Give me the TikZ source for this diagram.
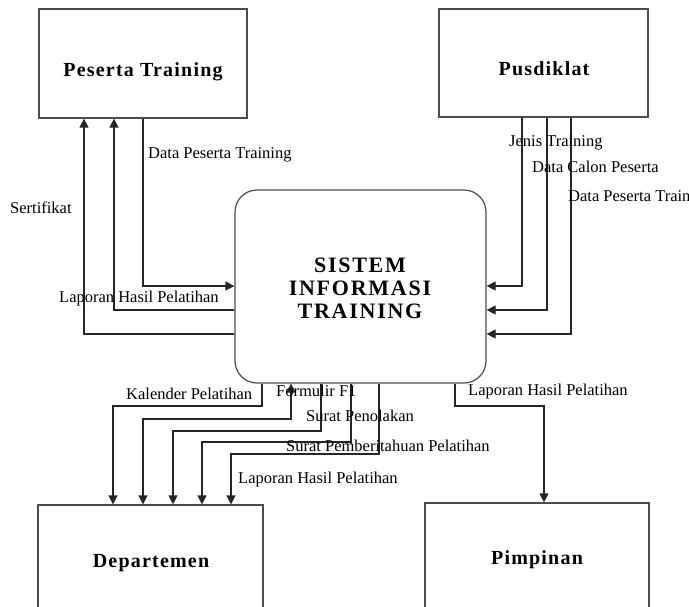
\documentclass[tikz,border=0pt]{standalone}
\usepackage{fontspec}
\setmainfont{Liberation Serif}
\newfontfamily\ttlfont{Liberation Serif}[LetterSpace=6]
\newfontfamily\sysfont{Liberation Serif}[LetterSpace=8]
\usetikzlibrary{arrows.meta}
\begin{document}
\begin{tikzpicture}[x=1pt,y=-1pt,
  box/.style={draw=black!70, line width=1.2pt, inner sep=0pt, fill=none},
  ttl/.style={anchor=base, inner sep=0pt, font=\ttlfont\bfseries\fontsize{20}{22}\selectfont},
  lbl/.style={anchor=base west, inner sep=0pt, font=\fontsize{16.5}{18}\selectfont},
  tip/.style={Triangle[length=9pt,width=9pt]},
  arr/.style={draw=black!85, line width=1.2pt, -{Triangle[length=9pt,width=9pt]}},
  barr/.style={draw=black!85, line width=1.2pt, {Triangle[length=9pt,width=9pt]}-{Triangle[length=9pt,width=9pt]}}]
\useasboundingbox (0,0) rectangle (689,606);
\clip (0,0) rectangle (689,606);
\fill[white] (0,0) rectangle (689,606);
% boxes
\node[box, minimum width=208pt, minimum height=109pt] (pt) at (143,63.5) {};
\node[box, minimum width=209pt, minimum height=108pt] (pu) at (543.5,63) {};
\node[box, rounded corners=22pt, minimum width=251pt, minimum height=193pt] (sis) at (360.5,286.5) {};
\node[box, minimum width=225pt, minimum height=195pt] (dep) at (150.5,602.5) {};
\node[box, minimum width=224pt, minimum height=197pt] (pim) at (537,601.5) {};
% titles
\node[ttl] (ptt) at (143,76) {Peserta Training};
\node[ttl] (put) at (544,75) {Pusdiklat};
\node[ttl] (dept) at (151,567) {Departemen};
\node[ttl] (pimt) at (537,564) {Pimpinan};
\node[anchor=base, inner sep=0pt, font=\sysfont\bfseries\fontsize{22}{23}\selectfont] (s1) at (360,272) {SISTEM};
\node[anchor=base, inner sep=0pt, font=\sysfont\bfseries\fontsize{22}{23}\selectfont] (s2) at (360,295) {INFORMASI};
\node[anchor=base, inner sep=0pt, font=\sysfont\bfseries\fontsize{22}{23}\selectfont] (s3) at (360,318) {TRAINING};
% left connectors
\draw[arr] (pt.south -| 143,0) |- (sis.west |- 0,286);
\draw[arr] (sis.west |- 0,310) -| (pt.south -| 114,0);
\draw[arr] (sis.west |- 0,334) -| (pt.south -| 84,0);
% right connectors
\draw[arr] (pu.south -| 522,0) |- (sis.east |- 0,286);
\draw[arr] (pu.south -| 547,0) |- (sis.east |- 0,310);
\draw[arr] (pu.south -| 571,0) |- (sis.east |- 0,334);
% bottom connectors
\draw[arr] (sis.south -| 262,0) |- (113,406) -- (dep.north -| 113,0);
\draw[barr] (sis.south -| 291,0) |- (143,419) -- (dep.north -| 143,0);
\draw[arr] (sis.south -| 321,0) |- (173,431) -- (dep.north -| 173,0);
\draw[arr] (sis.south -| 351,0) |- (202,442) -- (dep.north -| 202,0);
\draw[arr] (sis.south -| 379,0) |- (231,454) -- (dep.north -| 231,0);
\draw[arr] (sis.south -| 455,0) |- (544,406) -- (pim.north -| 544,0);
% labels
\node[lbl] (l1) at (148,158) {Data Peserta Training};
\node[lbl] (l2) at (10,213) {Sertifikat};
\node[lbl] (l3) at (59,302) {Laporan Hasil Pelatihan};
\node[lbl] (l4) at (509,146) {Jenis Training};
\node[lbl] (l5) at (532,172) {Data Calon Peserta};
\node[lbl] (l6) at (568,201) {Data Peserta Training};
\node[lbl] (l7) at (126,399) {Kalender Pelatihan};
\node[lbl] (l8) at (276,396) {Formulir F1};
\node[lbl] (l9) at (306,421) {Surat Penolakan};
\node[lbl] (l10) at (286,451) {Surat Pemberitahuan Pelatihan};
\node[lbl] (l11) at (238,483) {Laporan Hasil Pelatihan};
\node[lbl] (l12) at (468,395) {Laporan Hasil Pelatihan};
\end{tikzpicture}
\end{document}
